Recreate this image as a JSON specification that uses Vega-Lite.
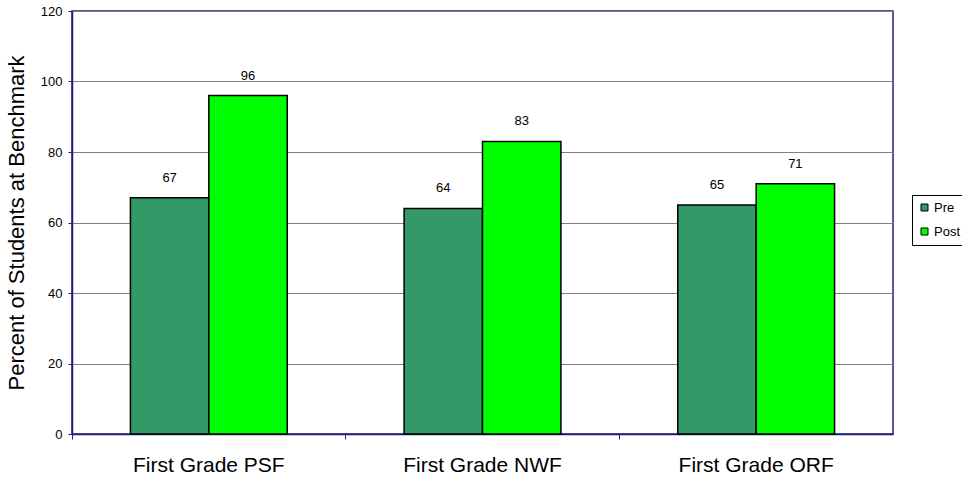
{
  "$schema": "https://vega.github.io/schema/vega-lite/v6.json",
  "width": 821,
  "height": 423,
  "autosize": {"type": "none"},
  "padding": {"left": 72, "top": 11, "right": 69, "bottom": 44},
  "background": "white",
  "config": {
    "font": "Liberation Sans",
    "view": {"stroke": "#1F1F7A", "strokeWidth": 1.5}
  },
  "data": {
    "values": [
      {"test": "First Grade PSF", "period": "Pre", "value": 67},
      {"test": "First Grade PSF", "period": "Post", "value": 96},
      {"test": "First Grade NWF", "period": "Pre", "value": 64},
      {"test": "First Grade NWF", "period": "Post", "value": 83},
      {"test": "First Grade ORF", "period": "Pre", "value": 65},
      {"test": "First Grade ORF", "period": "Post", "value": 71}
    ]
  },
  "encoding": {
    "x": {
      "field": "test",
      "type": "nominal",
      "sort": ["First Grade PSF", "First Grade NWF", "First Grade ORF"],
      "scale": {"paddingInner": 0, "paddingOuter": 0},
      "axis": {
        "title": null,
        "labelAngle": 0,
        "labelFontSize": 21,
        "labelColor": "black",
        "labelPadding": 15,
        "bandPosition": 0,
        "tickSize": 5,
        "tickColor": "#1F1F7A",
        "domainColor": "#1F1F7A",
        "domainWidth": 1.5,
        "grid": false
      }
    },
    "xOffset": {
      "field": "period",
      "type": "nominal",
      "sort": ["Pre", "Post"],
      "scale": {"paddingInner": 0, "paddingOuter": 0.745}
    },
    "y": {
      "field": "value",
      "type": "quantitative",
      "scale": {"domain": [0, 120], "nice": false},
      "axis": {
        "title": "Percent of Students at Benchmark",
        "titleFontSize": 22,
        "titleFontWeight": "normal",
        "titleColor": "black",
        "titlePadding": 12,
        "values": [0, 20, 40, 60, 80, 100, 120],
        "labelFontSize": 13,
        "labelColor": "black",
        "labelPadding": 6,
        "tickSize": 4,
        "tickColor": "#1F1F7A",
        "domainColor": "#1F1F7A",
        "domainWidth": 1.5,
        "gridColor": "#808080",
        "gridWidth": 1
      }
    }
  },
  "layer": [
    {
      "mark": {"type": "bar", "stroke": "black", "strokeWidth": 1.5},
      "encoding": {
        "color": {
          "field": "period",
          "type": "nominal",
          "sort": ["Pre", "Post"],
          "scale": {"domain": ["Pre", "Post"], "range": ["#339966", "#00FF00"]},
          "legend": {
            "title": null,
            "orient": "none",
            "legendX": 840,
            "legendY": 184,
            "symbolType": "square",
            "symbolSize": 49,
            "symbolStrokeColor": "black",
            "symbolStrokeWidth": 1,
            "labelFontSize": 13,
            "labelColor": "black",
            "labelOffset": 3,
            "rowPadding": 10,
            "strokeColor": "black",
            "padding": 6,
            "fillColor": "white"
          }
        }
      }
    },
    {
      "mark": {"type": "text", "fontSize": 13, "color": "black", "baseline": "bottom", "dy": -13},
      "encoding": {
        "text": {"field": "value", "type": "quantitative"}
      }
    }
  ]
}
